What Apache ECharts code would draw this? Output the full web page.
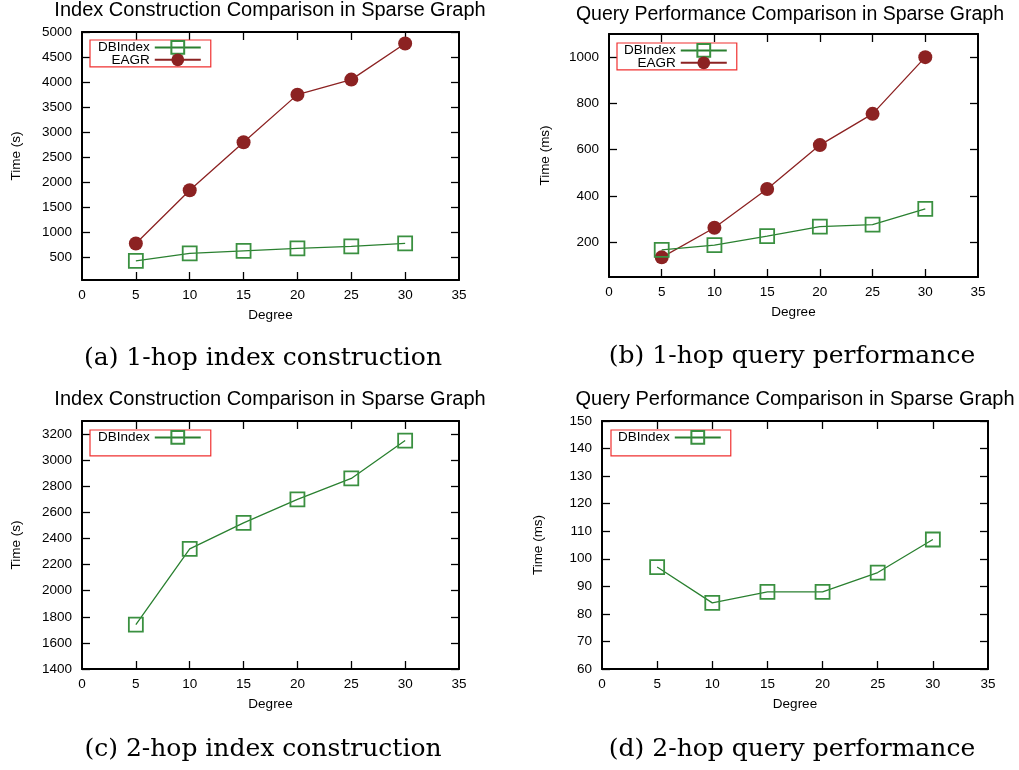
<!DOCTYPE html>
<html>
<head>
<meta charset="utf-8">
<title>Sparse Graph Comparison</title>
<script src="https://cdn.jsdelivr.net/npm/echarts@6/dist/echarts.min.js"></script>
<style>
  html, body { margin: 0; padding: 0; background: #fff; }
  #chart { width: 1019px; height: 770px; }
</style>
</head>
<body>
<div id="chart"></div>
<script>
// Degrees on the x axis
const degrees = [5, 10, 15, 20, 25, 30];
const degreeTicks = [0, 5, 10, 15, 20, 25, 30, 35];

// (a) 1-hop index construction time (s)
const buildDBIndex1 = [430, 580, 630, 680, 720, 780];
const buildEAGR1 = [780, 1840, 2800, 3750, 4050, 4770];
const buildTicks1 = [500, 1000, 1500, 2000, 2500, 3000, 3500, 4000, 4500, 5000];

// (b) 1-hop query time (ms)
const queryDBIndex1 = [167, 188, 227, 268, 276, 344];
const queryEAGR1 = [135, 263, 430, 620, 755, 1000];
const queryTicks1 = [200, 400, 600, 800, 1000];

// (c) 2-hop index construction time (s)
const buildDBIndex2 = [1740, 2320, 2520, 2700, 2860, 3150];
const buildTicks2 = [1400, 1600, 1800, 2000, 2200, 2400, 2600, 2800, 3000, 3200];

// (d) 2-hop query time (ms)
const queryDBIndex2 = [97, 84, 88, 88, 95, 107];
const queryTicks2 = [60, 70, 80, 90, 100, 110, 120, 130, 140, 150];

const titleBuild = 'Index Construction Comparison in Sparse Graph';
const titleQuery = 'Query Performance Comparison in Sparse Graph';
const captions = [
  '(a) 1-hop index construction',
  '(b) 1-hop query performance',
  '(c) 2-hop index construction',
  '(d) 2-hop query performance'
];

const GREEN = '#2a8030';
const BROWN = '#8c2222';
const SANS = 'Liberation Sans, Arial, sans-serif';
const SERIF = 'DejaVu Serif, serif';
const FS = 13.5;

function pairs(values) {
  return degrees.map((d, i) => [d, values[i]]);
}

// Panel layout: grid box, y range, tick values, series
const panels = [
  {
    grid: { left: 82, top: 32, width: 377, height: 248 },
    title: titleBuild, titleX: 270, titleY: 0, titleSize: 20,
    caption: captions[0], capX: 263, capY: 346,
    yName: 'Time (s)', yMin: 50, yMax: 5000, yTicks: buildTicks1,
    legend: { left: 90, top: 40, padding: [0, 9, 0, 8] },
    series: [
      { name: 'DBIndex', values: buildDBIndex1, kind: 'square' },
      { name: 'EAGR', values: buildEAGR1, kind: 'circle' }
    ]
  },
  {
    grid: { left: 609, top: 34, width: 369, height: 243 },
    title: titleQuery, titleX: 790, titleY: 5, titleSize: 19.5,
    caption: captions[1], capX: 792, capY: 344,
    yName: 'Time (ms)', yMin: 50, yMax: 1100, yTicks: queryTicks1,
    legend: { left: 617, top: 43, padding: [0, 9, 0, 7] },
    series: [
      { name: 'DBIndex', values: queryDBIndex1, kind: 'square' },
      { name: 'EAGR', values: queryEAGR1, kind: 'circle' }
    ]
  },
  {
    grid: { left: 82, top: 421, width: 377, height: 248 },
    title: titleBuild, titleX: 270, titleY: 389, titleSize: 20,
    caption: captions[2], capX: 263, capY: 737,
    yName: 'Time (s)', yMin: 1400, yMax: 3300, yTicks: buildTicks2,
    legend: { left: 90, top: 430, padding: [0, 9, 11, 8] },
    series: [
      { name: 'DBIndex', values: buildDBIndex2, kind: 'square' }
    ]
  },
  {
    grid: { left: 602, top: 421, width: 386, height: 248 },
    title: titleQuery, titleX: 795, titleY: 389, titleSize: 20,
    caption: captions[3], capX: 792, capY: 737,
    yName: 'Time (ms)', yMin: 60, yMax: 150, yTicks: queryTicks2,
    legend: { left: 611, top: 430, padding: [0, 9, 11, 7] },
    series: [
      { name: 'DBIndex', values: queryDBIndex2, kind: 'square' }
    ]
  }
];

const frameLine = { show: true, onZero: false, lineStyle: { color: '#000', width: 2 } };
const innerTick = (values) => ({
  show: true, inside: true, length: 8,
  lineStyle: { color: '#000', width: 1.3 },
  customValues: values
});
const plainNumber = (v) => String(v);

const option = {
  animation: false,
  backgroundColor: '#fff',
  grid: [], xAxis: [], yAxis: [], series: [], title: [], legend: []
};

panels.forEach((p, k) => {
  option.grid.push(Object.assign({ containLabel: false, outerBoundsMode: 'none' }, p.grid));

  const xInner = degreeTicks.slice(1, -1);
  // bottom axis with labels
  option.xAxis.push({
    type: 'value', gridIndex: k, position: 'bottom',
    min: 0, max: 35, interval: 5,
    axisLine: frameLine,
    axisTick: innerTick(xInner),
    axisLabel: { show: true, color: '#000', fontSize: FS, fontFamily: SANS, margin: 8,
                 customValues: degreeTicks, formatter: plainNumber },
    splitLine: { show: false },
    name: 'Degree', nameLocation: 'middle', nameGap: 35,
    nameTextStyle: { color: '#000', fontSize: FS, fontFamily: SANS, verticalAlign: 'middle' }
  });
  // top mirror axis
  option.xAxis.push({
    type: 'value', gridIndex: k, position: 'top',
    min: 0, max: 35, interval: 5,
    axisLine: frameLine,
    axisTick: innerTick(xInner),
    axisLabel: { show: false },
    splitLine: { show: false }
  });
  // left axis with labels
  option.yAxis.push({
    type: 'value', gridIndex: k, position: 'left',
    min: p.yMin, max: p.yMax,
    axisLine: frameLine,
    axisTick: innerTick(p.yTicks),
    axisLabel: { show: true, color: '#000', fontSize: FS, fontFamily: SANS, margin: 10,
                 customValues: p.yTicks, formatter: plainNumber },
    splitLine: { show: false },
    name: p.yName, nameLocation: 'middle', nameGap: k % 2 === 0 ? 66 : 64,
    nameRotate: 90,
    nameTextStyle: { color: '#000', fontSize: FS, fontFamily: SANS, verticalAlign: 'middle' }
  });
  // right mirror axis
  option.yAxis.push({
    type: 'value', gridIndex: k, position: 'right',
    min: p.yMin, max: p.yMax,
    axisLine: frameLine,
    axisTick: innerTick(p.yTicks),
    axisLabel: { show: false },
    splitLine: { show: false }
  });

  p.series.forEach((s) => {
    const square = s.kind === 'square';
    const color = square ? GREEN : BROWN;
    option.series.push({
      type: 'line', name: s.name,
      xAxisIndex: 2 * k, yAxisIndex: 2 * k,
      data: pairs(s.values),
      symbol: square ? 'rect' : 'circle',
      symbolSize: 14,
      showAllSymbol: true,
      lineStyle: { color: color, width: 1.3 },
      itemStyle: square
        ? { color: 'rgba(0,0,0,0)', borderColor: '#3a9040', borderWidth: 1.8 }
        : { color: BROWN, borderColor: BROWN, borderWidth: 0 },
      emphasis: { disabled: true },
      z: square ? 3 : 2
    });
  });

  option.title.push({
    text: p.title, left: p.titleX, top: p.titleY, textAlign: 'center', padding: 0,
    textStyle: { color: '#000', fontSize: p.titleSize, fontWeight: 'normal', fontFamily: SANS }
  });
  option.title.push({
    text: p.caption, left: p.capX, top: p.capY, textAlign: 'center', padding: 0,
    textStyle: { color: '#000', fontSize: 25, fontWeight: 'normal', fontFamily: SERIF }
  });

  option.legend.push({
    data: p.series.map((s) => s.name),
    orient: 'vertical', align: 'right',
    left: p.legend.left, top: p.legend.top, padding: p.legend.padding,
    itemWidth: 46, itemHeight: 16, itemGap: -2,
    borderColor: '#f03030', borderWidth: 1.2, borderRadius: 0,
    selectedMode: false,
    textStyle: { color: '#000', fontSize: FS, fontFamily: SANS, lineHeight: 14 }
  });
});

const chart = echarts.init(document.getElementById('chart'), null, { renderer: 'canvas' });
chart.setOption(option);
</script>
</body>
</html>
